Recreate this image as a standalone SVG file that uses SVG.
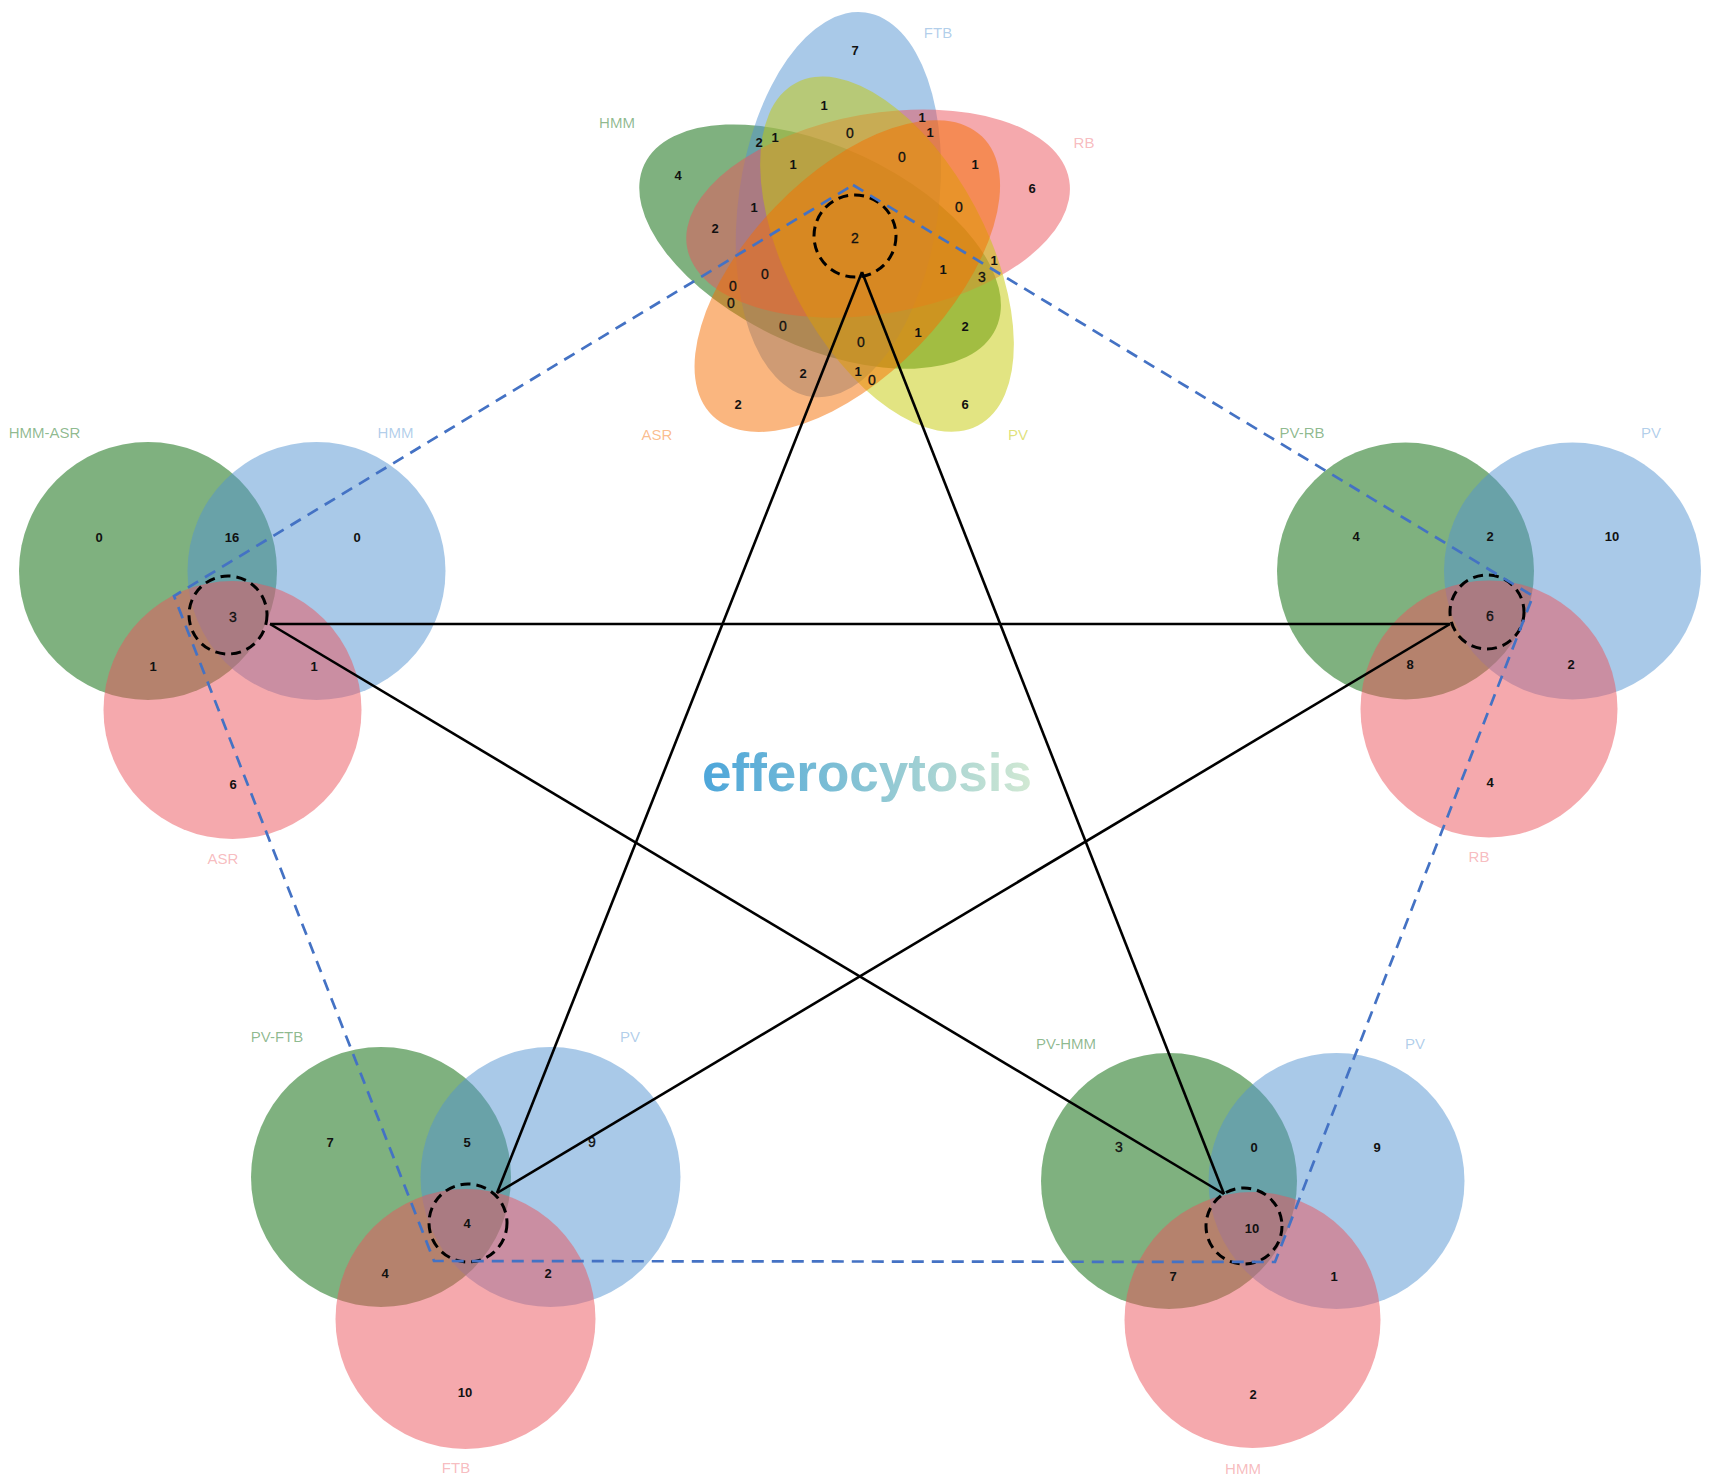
<svg xmlns="http://www.w3.org/2000/svg" width="1713" height="1484" viewBox="0 0 1713 1484">
<defs>
<style>
.n{font-family:"Liberation Sans",Arial,sans-serif;font-size:13px;font-weight:bold;fill:#111;text-anchor:middle}
.nr{font-weight:normal;font-size:14px;stroke:#111;stroke-width:0.3}
.lab{font-family:"Liberation Sans",Arial,sans-serif;font-size:15px;text-anchor:middle}
.g{fill:#006400;fill-opacity:.5}
.b{fill:#5393D1;fill-opacity:.5}
.r{fill:#EB535B;fill-opacity:.5}
.y{fill:#C5C905;fill-opacity:.5}
.o{fill:#F56D00;fill-opacity:.5}
.lg{fill:#006400;fill-opacity:.45}
.lb{fill:#5393D1;fill-opacity:.45}
.lr{fill:#EB535B;fill-opacity:.4}
.ly{fill:#C5C905;fill-opacity:.55}
.lo{fill:#F56D00;fill-opacity:.45}
.hl{fill:none;stroke:#000;stroke-width:3;stroke-dasharray:10 6}
.conn{stroke:#000;stroke-width:2.6;fill:none}
.pent{fill:none;stroke:#4472C4;stroke-width:2.7;stroke-dasharray:12 8}
.title{font-family:"Liberation Sans",Arial,sans-serif;font-size:53px;font-weight:bold;text-anchor:middle}
</style>
<linearGradient id="tg" x1="702" y1="0" x2="1032" y2="0" gradientUnits="userSpaceOnUse">
<stop offset="0" stop-color="#4DA6DA"/>
<stop offset="0.5" stop-color="#88C4D4"/>
<stop offset="1" stop-color="#D2E9D3"/>
</linearGradient>
</defs>
<rect width="1713" height="1484" fill="#fff"/>

<g id="venn5">
<ellipse class="g" cx="820.1" cy="246.6" rx="194" ry="100" transform="rotate(-155 820.1 246.6)"/>
<ellipse class="b" cx="838.4" cy="204.7" rx="194" ry="100" transform="rotate(-82 838.4 204.7)"/>
<ellipse class="r" cx="878.1" cy="213.6" rx="194" ry="100" transform="rotate(-10 878.1 213.6)"/>
<ellipse class="y" cx="887.0" cy="254.2" rx="194" ry="100" transform="rotate(-118 887.0 254.2)"/>
<ellipse class="o" cx="847.3" cy="276.1" rx="194" ry="100" transform="rotate(-46 847.3 276.1)"/>
<text class="lab lg" x="617" y="128">HMM</text>
<text class="lab lb" x="938" y="38">FTB</text>
<text class="lab lr" x="1084" y="148">RB</text>
<text class="lab lo" x="657" y="440">ASR</text>
<text class="lab ly" x="1018" y="440">PV</text>
<text class="n" x="855" y="55">7</text>
<text class="n" x="824" y="110">1</text>
<text class="n" x="922" y="122">1</text>
<text class="n" x="930" y="137">1</text>
<text class="n" x="759" y="147">2</text>
<text class="n" x="775" y="142">1</text>
<text class="n nr" x="850" y="138">0</text>
<text class="n" x="793" y="169">1</text>
<text class="n nr" x="902" y="162">0</text>
<text class="n" x="975" y="169">1</text>
<text class="n" x="1032" y="193">6</text>
<text class="n" x="678" y="180">4</text>
<text class="n" x="754" y="212">1</text>
<text class="n" x="715" y="233">2</text>
<text class="n nr" x="959" y="212">0</text>
<text class="n nr" x="855" y="243">2</text>
<text class="n" x="994" y="265">1</text>
<text class="n" x="943" y="274">1</text>
<text class="n nr" x="982" y="282">3</text>
<text class="n nr" x="765" y="279">0</text>
<text class="n nr" x="733" y="291">0</text>
<text class="n nr" x="731" y="308">0</text>
<text class="n nr" x="783" y="331">0</text>
<text class="n" x="918" y="337">1</text>
<text class="n" x="965" y="331">2</text>
<text class="n nr" x="861" y="347">0</text>
<text class="n" x="803" y="378">2</text>
<text class="n" x="858" y="376">1</text>
<text class="n nr" x="872" y="385">0</text>
<text class="n" x="738" y="409">2</text>
<text class="n" x="965" y="409">6</text>
<circle class="hl" cx="855" cy="236" r="41"/>
</g>

<g id="venn-hmm-asr">
<circle class="g" cx="148" cy="571" r="129"/>
<circle class="b" cx="316.5" cy="571" r="129"/>
<circle class="r" cx="232.5" cy="710" r="129"/>
<text class="lab lg" x="44.5" y="438">HMM-ASR</text>
<text class="lab lb" x="395.5" y="438">HMM</text>
<text class="lab lr" x="223" y="864">ASR</text>
<text class="n" x="99" y="542">0</text>
<text class="n" x="232" y="542">16</text>
<text class="n" x="357" y="542">0</text>
<text class="n nr" x="233" y="622">3</text>
<text class="n" x="153" y="671">1</text>
<text class="n" x="314" y="671">1</text>
<text class="n" x="233" y="789">6</text>
<circle class="hl" cx="228" cy="615" r="39"/>
</g>

<g id="venn-pv-rb">
<circle class="g" cx="1405.5" cy="571" r="128.5"/>
<circle class="b" cx="1572.5" cy="571" r="128.5"/>
<circle class="r" cx="1489" cy="709" r="128.5"/>
<text class="lab lg" x="1302" y="438">PV-RB</text>
<text class="lab lb" x="1651" y="438">PV</text>
<text class="lab lr" x="1479" y="862">RB</text>
<text class="n" x="1356" y="541">4</text>
<text class="n" x="1490" y="541">2</text>
<text class="n" x="1612" y="541">10</text>
<text class="n nr" x="1490" y="621">6</text>
<text class="n" x="1410" y="669">8</text>
<text class="n" x="1571" y="669">2</text>
<text class="n" x="1490" y="787">4</text>
<circle class="hl" cx="1487" cy="612" r="37"/>
</g>

<g id="venn-pv-ftb">
<circle class="g" cx="381" cy="1177" r="130"/>
<circle class="b" cx="550.5" cy="1177" r="130"/>
<circle class="r" cx="465.5" cy="1319" r="130"/>
<text class="lab lg" x="277" y="1042">PV-FTB</text>
<text class="lab lb" x="630" y="1042">PV</text>
<text class="lab lr" x="456" y="1473">FTB</text>
<text class="n" x="330" y="1147">7</text>
<text class="n" x="467" y="1147">5</text>
<text class="n nr" x="592" y="1147">9</text>
<text class="n" x="467" y="1228">4</text>
<text class="n" x="385" y="1278">4</text>
<text class="n" x="548" y="1278">2</text>
<text class="n" x="465" y="1397">10</text>
<circle class="hl" cx="468" cy="1223" r="39"/>
</g>

<g id="venn-pv-hmm">
<circle class="g" cx="1169" cy="1181" r="128"/>
<circle class="b" cx="1336.5" cy="1181" r="128"/>
<circle class="r" cx="1252.5" cy="1320" r="128"/>
<text class="lab lg" x="1066" y="1049">PV-HMM</text>
<text class="lab lb" x="1415" y="1049">PV</text>
<text class="lab lr" x="1243" y="1474">HMM</text>
<text class="n nr" x="1119" y="1152">3</text>
<text class="n" x="1254" y="1152">0</text>
<text class="n" x="1377" y="1152">9</text>
<text class="n" x="1252" y="1233">10</text>
<text class="n" x="1173" y="1281">7</text>
<text class="n" x="1334" y="1281">1</text>
<text class="n" x="1253" y="1399">2</text>
<circle class="hl" cx="1244" cy="1226" r="38"/>
</g>

<g id="title">
<text class="title" x="867" y="791" fill="url(#tg)">efferocytosis</text>
</g>

<g id="connectors">
<path class="pent" d="M853,185 L1533,596 L1275,1262 L434,1261 L174,596 Z"/>
<line class="conn" x1="862" y1="272" x2="497" y2="1193"/>
<line class="conn" x1="862" y1="272" x2="1224" y2="1194"/>
<line class="conn" x1="270" y1="624" x2="1450" y2="624"/>
<line class="conn" x1="270" y1="624" x2="1224" y2="1194"/>
<line class="conn" x1="1450" y1="624" x2="497" y2="1193"/>
</g>
</svg>
